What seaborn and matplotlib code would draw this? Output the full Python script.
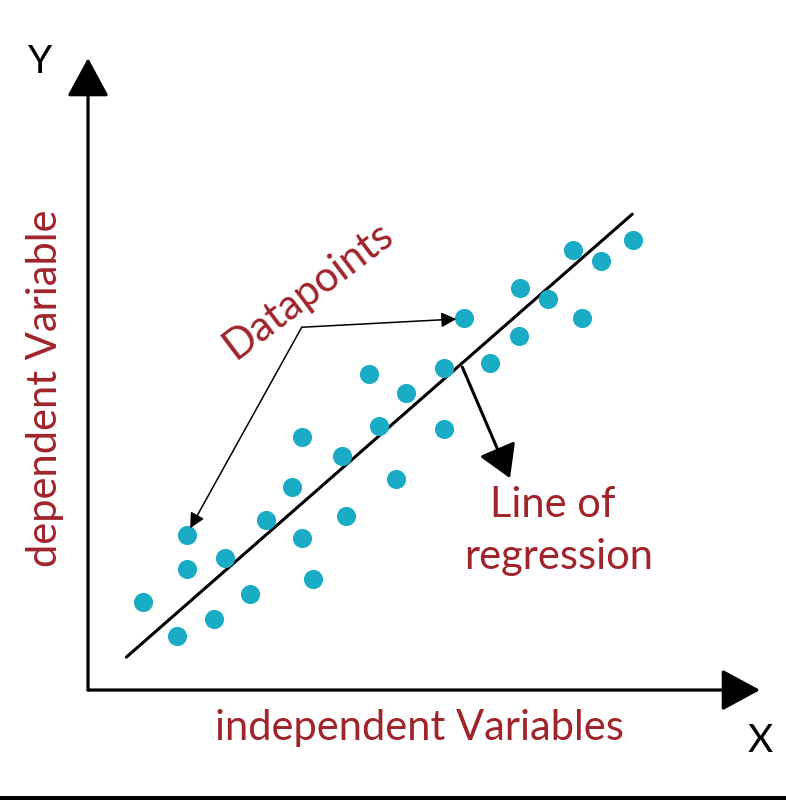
import numpy as np
import pandas as pd
import matplotlib
matplotlib.use("Agg")
import matplotlib.pyplot as plt
import seaborn as sns
from matplotlib.patches import ArrowStyle

# data points (x: independent, y: dependent)
point_x = [0.82, 1.32, 1.47, 1.47, 1.88, 2.04, 2.41, 2.65, 3.04, 3.18,
           3.18, 3.35, 3.78, 3.84, 4.18, 4.33, 4.58, 4.73, 5.30, 5.30,
           5.60, 5.98, 6.41, 6.43, 6.85, 7.22, 7.35, 7.63, 8.11]
point_y = [1.39, 0.85, 2.45, 1.91, 1.12, 2.09, 1.52, 2.69, 3.21, 4.00,
           2.41, 1.76, 3.70, 2.75, 5.00, 4.18, 3.34, 4.70, 5.09, 4.13,
           5.89, 5.17, 5.60, 6.36, 6.19, 6.96, 5.89, 6.79, 7.12]

# regression line end points
line_x = [0.57, 8.10]
line_y = [0.52, 7.53]

# annotation anchors
corner = (3.18, 5.74)
datapoint_tips = [(5.48, 5.87), (1.52, 2.56)]
reg_arrow_start = (5.57, 5.11)
reg_arrow_end = (6.28, 3.35)

dot_color = "#1aabc5"
text_color = "#a0242b"

sns.set_theme(style="white")
plt.rcParams["font.family"] = ["Lato", "DejaVu Sans"]

fig = plt.figure(figsize=(7.86, 8), dpi=100)
ax = fig.add_axes([0, 0, 1, 1])
ax.set_xlim(-1.31, 10.387)
ax.set_ylim(-1.74, 10.918)
ax.axis("off")

points = pd.DataFrame({"x": point_x, "y": point_y})
sns.lineplot(x=line_x, y=line_y, color="black", linewidth=2.2, ax=ax)
sns.scatterplot(data=points, x="x", y="y", color=dot_color, s=190,
                linewidth=0, ax=ax, zorder=3)

# axes with arrow heads
axis_style = ArrowStyle("-|>", head_length=2.4, head_width=1.3)
for end in [(0, 10.0), (10.0, 0)]:
    ax.annotate("", xy=end, xytext=(0, 0),
                arrowprops=dict(arrowstyle=axis_style, color="black", lw=2.3,
                                shrinkA=0, shrinkB=0, mutation_scale=10))

# datapoints pointer lines
thin_style = ArrowStyle("-|>", head_length=0.9, head_width=0.45)
for tip in datapoint_tips:
    ax.annotate("", xy=tip, xytext=corner,
                arrowprops=dict(arrowstyle=thin_style, color="black", lw=1.1,
                                shrinkA=0, shrinkB=0, mutation_scale=10))

# regression pointer
reg_style = ArrowStyle("-|>", head_length=2.0, head_width=1.2)
ax.annotate("", xy=reg_arrow_end, xytext=reg_arrow_start,
            arrowprops=dict(arrowstyle=reg_style, color="black", lw=2.2,
                            shrinkA=0, shrinkB=0, mutation_scale=10))

# labels
ax.text(-0.72, 9.93, "Y", fontsize=28, color="black", ha="center", va="center")
ax.text(10.0, -0.8, "X", fontsize=28, color="black", ha="center", va="center")
ax.text(-0.64, 4.77, "dependent Variable", fontsize=30, color=text_color,
        rotation=90, ha="center", va="center")
ax.text(4.93, -0.6, "independent Variables", fontsize=30, color=text_color,
        ha="center", va="center")
ax.text(3.27, 6.33, "Datapoints", fontsize=30, color=text_color,
        rotation=37, ha="center", va="center", rotation_mode="anchor")
ax.text(6.92, 2.92, "Line of", fontsize=30, color=text_color,
        ha="center", va="center")
ax.text(7.01, 2.11, "regression", fontsize=30, color=text_color,
        ha="center", va="center")

# dark strip along the bottom edge
ax.axhspan(-1.74, -1.67, color="black", lw=0)

fig.savefig("out.png", dpi=100, facecolor="white")
